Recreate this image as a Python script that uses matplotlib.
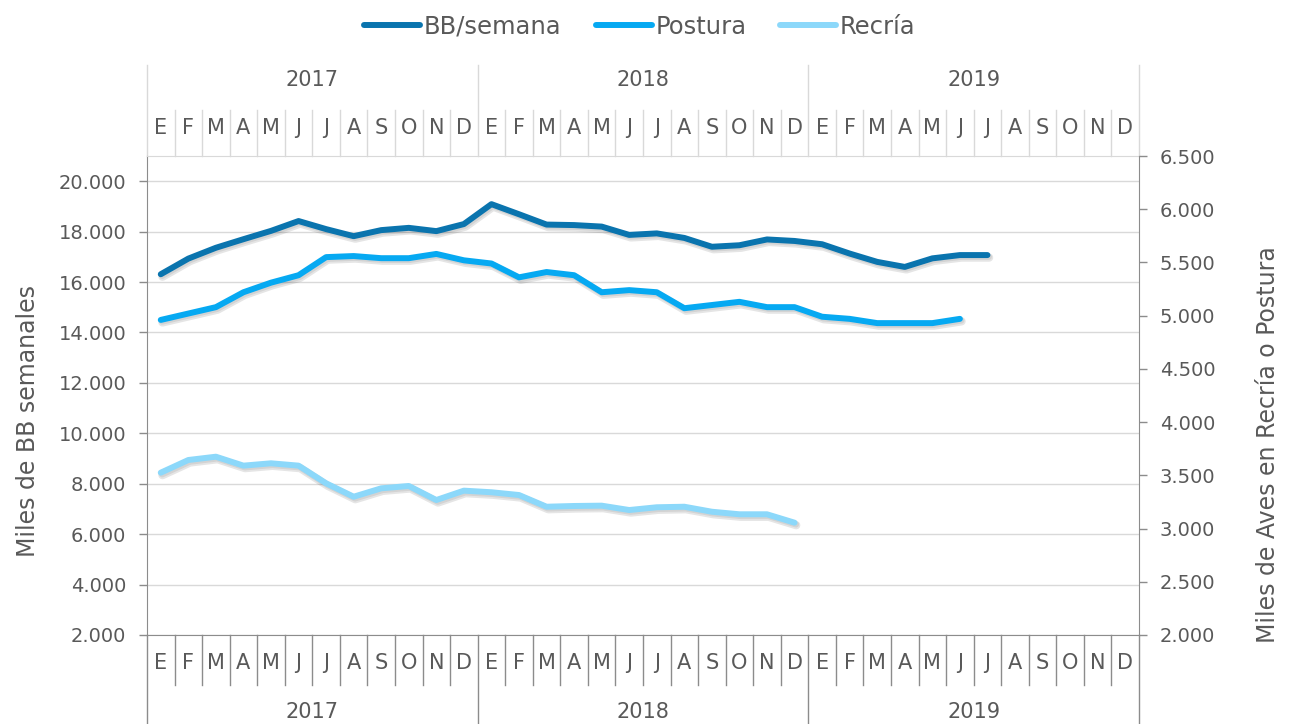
import matplotlib
matplotlib.use("Agg")
import matplotlib.pyplot as plt
import matplotlib.patheffects as pe
from matplotlib.lines import Line2D
from matplotlib.transforms import blended_transform_factory
from matplotlib.ticker import FuncFormatter, MultipleLocator

plt.rcParams['font.family'] = ['DejaVu Sans']

# --- data ---
meses = ["E", "F", "M", "A", "M", "J", "J", "A", "S", "O", "N", "D"]
anios = ["2017", "2018", "2019"]

# BB/semana, left axis (miles), Jan 2017 .. Jul 2019
bb_semana = [16310, 16930, 17360, 17700, 18030, 18420, 18100, 17820, 18060, 18150,
             18020, 18300, 19090, 18690, 18280, 18260, 18200, 17870, 17930, 17750,
             17400, 17460, 17690, 17630, 17500, 17130, 16800, 16600, 16940, 17070,
             17070]
# Postura, right axis (miles de aves), Jan 2017 .. Jun 2019
postura = [4960, 5020, 5080, 5220, 5310, 5380, 5550, 5560, 5540, 5540,
           5580, 5520, 5490, 5360, 5410, 5380, 5220, 5240, 5220, 5070,
           5100, 5130, 5080, 5080, 4990, 4970, 4930, 4930, 4930, 4970]
# Recria, right axis (miles de aves), Jan 2017 .. Dec 2018
recria = [3525, 3644, 3675, 3591, 3613, 3591, 3425, 3299, 3378, 3400,
          3268, 3356, 3341, 3315, 3205, 3212, 3215, 3174, 3200, 3205,
          3158, 3134, 3134, 3055]

c_bb = '#0A74AE'
c_post = '#06A9F2'
c_rec = '#8CD8FA'
grey_txt = '#595959'
grey_ax = '#8C8C8C'
grey_lt = '#D9D9D9'

fig = plt.figure(figsize=(12.9, 7.24), dpi=100)
ax = fig.add_axes([147/1290, 89/724, 992/1290, 479/724])
ax2 = ax.twinx()

n_months = len(meses) * len(anios)
ax.set_xlim(-0.5, n_months - 0.5)
ax.set_ylim(2000, 21000)
ax2.set_ylim(2000, 6500)
ax.yaxis.set_major_locator(MultipleLocator(2000))
ax2.yaxis.set_major_locator(MultipleLocator(500))
fmt = FuncFormatter(lambda v, p: f"{int(round(v)):,}".replace(",", "."))
ax.yaxis.set_major_formatter(fmt)
ax2.yaxis.set_major_formatter(fmt)
ax.set_xticks([])

ax.grid(axis='y', color=grey_lt, linewidth=1.0)
ax.set_axisbelow(True)

for a in (ax, ax2):
    a.tick_params(axis='y', direction='out', length=6, width=1, color=grey_ax,
                  labelcolor=grey_txt, labelsize=14, pad=9)
ax.spines['left'].set_color(grey_ax)
ax.spines['bottom'].set_color(grey_ax)
ax.spines['top'].set_color(grey_lt)
ax.spines['right'].set_visible(False)
ax2.spines['right'].set_color(grey_ax)
for s in ('left', 'top', 'bottom'):
    ax2.spines[s].set_visible(False)

# soft drop shadow under each line
shadow = [pe.SimpleLineShadow(offset=(1.2, -1.8), shadow_color='black', alpha=0.10, linewidth=6),
          pe.SimpleLineShadow(offset=(1.0, -1.2), shadow_color='black', alpha=0.08, linewidth=4.5),
          pe.Normal()]
lw = 4.3
style = dict(lw=lw, solid_capstyle='round', solid_joinstyle='round', path_effects=shadow)
ax.plot(range(len(bb_semana)), bb_semana, color=c_bb, **style)
ax2.plot(range(len(postura)), postura, color=c_post, **style)
ax2.plot(range(len(recria)), recria, color=c_rec, **style)

# --- two-level category axis, drawn at the bottom and mirrored at the top ---
tr = blended_transform_factory(ax.transData, ax.transAxes)
for k in range(n_months + 1):
    xb = k - 0.5
    is_year = (k % 12 == 0)
    ax.plot([xb, xb], [0, -0.21 if is_year else -0.105], transform=tr,
            color=grey_ax, lw=1, clip_on=False)
    ax.plot([xb, xb], [1, 1.19 if is_year else 1.096], transform=tr,
            color=grey_lt, lw=1, clip_on=False)

for i in range(n_months):
    m = meses[i % 12]
    ax.text(i, -0.058, m, transform=tr, ha='center', va='center',
            fontsize=15, color=grey_txt)
    ax.text(i, 1.058, m, transform=tr, ha='center', va='center',
            fontsize=15, color=grey_txt)

for j, yr in enumerate(anios):
    xc = j * 12 + 5.5
    ax.text(xc, -0.161, yr, transform=tr, ha='center', va='center',
            fontsize=15, color=grey_txt)
    ax.text(xc, 1.159, yr, transform=tr, ha='center', va='center',
            fontsize=15, color=grey_txt)

fig.text(28/1290, 1 - 421/724, "Miles de BB semanales", rotation=90,
         ha='center', va='center', fontsize=17, color=grey_txt)
fig.text(1268/1290, 1 - 445/724, "Miles de Aves en Recría o Postura", rotation=90,
         ha='center', va='center', fontsize=17, color=grey_txt)

handles = [Line2D([], [], color=c, lw=lw, solid_capstyle='round')
           for c in (c_bb, c_post, c_rec)]
fig.legend(handles, ["BB/semana", "Postura", "Recría"], loc='center',
           bbox_to_anchor=(640/1290, 1 - 27/724), ncol=3, frameon=False,
           fontsize=17.5, labelcolor=grey_txt, handlelength=2.3,
           handletextpad=0.15, columnspacing=1.4)

fig.savefig("out.png", dpi=100)
